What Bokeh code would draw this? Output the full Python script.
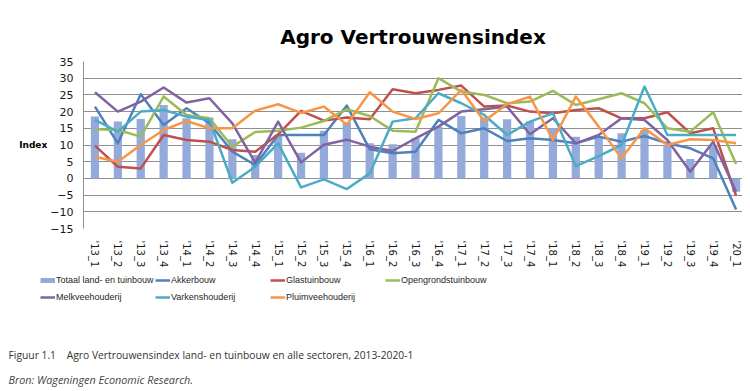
from bokeh.plotting import figure
from bokeh.models import FixedTicker, Label, Legend, LegendItem, Range1d
from bokeh.embed import file_html
from bokeh.resources import INLINE

categories = ["'13_1", "'13_2", "'13_3", "'13_4", "'14_1", "'14_2", "'14_3", "'14_4",
              "'15_1", "'15_2", "'15_3", "'15_4", "'16_1", "'16_2", "'16_3", "'16_4",
              "'17_1", "'17_2", "'17_3", "'17_4", "'18_1", "'18_2", "'18_3", "'18_4",
              "'19_1", "'19_2", "'19_3", "'19_4", "'20_1"]

totaal = [18.5, 17, 17.8, 22, 18, 18.2, 11.7, 7,
          13, 7.7, 14.3, 16.7, 10.5, 10.2, 12, 15.5,
          18.7, 18.2, 17.7, 17, 15, 12.5, 12.3, 13.5,
          14.5, 10, 5.8, 10, -4]
akkerbouw = [21.5, 10.5, 25.2, 16, 21, 16.5, 8, 4,
             13, 13, 13, 21.8, 8.7, 7.5, 8, 17.5,
             13.5, 15, 11.2, 12, 11.5, 10.5, 12.5, 11,
             12.7, 10.5, 9, 6, -9.3]
glastuinbouw = [9.8, 3.5, 3, 13, 11.5, 11, 8.5, 8,
                13.2, 20.2, 17.3, 18.2, 17.7, 26.7, 25.5, 26.5,
                27.8, 21.5, 21.8, 20, 19.5, 20.5, 21, 18,
                18, 19.8, 13.5, 15, -5.2]
opengrond = [14.7, 14.5, 12.5, 24.5, 19, 18, 9.5, 13.9,
             14.3, 15.2, 17.2, 20.7, 18.7, 14.3, 14, 30,
             26, 25, 22.5, 23, 26.2, 22, 23.7, 25.5,
             22.5, 15, 14, 19.8, 4.3]
melkvee = [25.8, 20, 23, 27.2, 22.7, 24, 16.5, 4.7,
           17, 4.8, 10.1, 11.6, 9.5, 8.2, 12, 15.5,
           20, 20.7, 21.5, 13.2, 18, 10.5, 13, 18,
           17.5, 11.5, 2, 11, -4]
varkens = [17.5, 14, 20, 20.5, 18.5, 17.5, -1.3, 3.5,
           10.5, -2.7, -0.3, -3.2, 1.5, 17, 18, 25.5,
           22.5, 19, 13, 17, 19.5, 3.7, 6.7, 10,
           27.5, 13, 13, 13, 13]
pluimvee = [6.5, 5, 10, 14.5, 17.2, 15, 15, 20.3,
            22.2, 19.6, 21.5, 16.1, 25.8, 20, 17.8, 19.5,
            26.5, 17.2, 22.2, 24.5, 11.5, 24.5, 15.5, 6,
            15, 10, 11.7, 11.5, 10.5]

series_names = ["Akkerbouw", "Glastuinbouw", "Opengrondstuinbouw",
                "Melkveehouderij", "Varkenshouderij", "Pluimveehouderij"]
series_values = [akkerbouw, glastuinbouw, opengrond, melkvee, varkens, pluimvee]
series_colors = ["#4F81BD", "#C0504D", "#9BBB59", "#8064A2", "#4BACC6", "#F79646"]
bar_name = "Totaal land- en tuinbouw"
bar_color = "#94AADA"

y_ticks = [-15, -10, -5, 0, 5, 10, 15, 20, 25, 30, 35]
title_text = "Agro Vertrouwensindex"
y_label = "Index"
caption = "Figuur 1.1\u00a0\u00a0\u00a0\u00a0Agro Vertrouwensindex land- en tuinbouw en alle sectoren, 2013-2020-1"
source_text = "Bron: Wageningen Economic Research."

xs = list(range(len(categories)))

# ---------------- main chart ----------------
p = figure(frame_width=659, frame_height=167,
           min_border_left=83, min_border_right=0, min_border_top=61, min_border_bottom=35,
           x_range=Range1d(-0.5, 28.28), y_range=Range1d(-15, 35),
           output_backend="svg", toolbar_location=None, title=title_text)

p.title.align = "center"
p.title.offset = 10
p.title.text_font = "DejaVu Sans"
p.title.text_font_size = "20px"
p.title.text_font_style = "bold"
p.title.text_color = "#000000"
p.title.standoff = 25
p.outline_line_color = None
p.background_fill_color = "white"

p.xgrid.visible = False
p.ygrid.ticker = FixedTicker(ticks=y_ticks)
p.ygrid.grid_line_color = "#8f8f8f"
p.ygrid.grid_line_width = 1

yax = p.yaxis[0]
yax.ticker = FixedTicker(ticks=y_ticks)
yax.major_label_text_font = "DejaVu Sans"
yax.major_label_text_font_size = "11px"
yax.major_label_text_color = "#1a1a1a"
yax.major_tick_line_color = None
yax.minor_tick_line_color = None
yax.axis_line_color = "#8f8f8f"
yax.major_label_standoff = 4
yax.axis_label = y_label
yax.axis_label_text_font = "DejaVu Sans"
yax.axis_label_text_font_size = "9px"
yax.axis_label_text_font_style = "bold"
yax.axis_label_text_color = "#000000"
yax.axis_label_standoff = 0
if "axis_label_orientation" in yax.properties():
    yax.axis_label_orientation = "horizontal"

xax = p.xaxis[0]
xax.ticker = FixedTicker(ticks=xs)
xax.major_label_overrides = {i: c for i, c in enumerate(categories)}
xax.major_label_orientation = "vertical"
xax.major_label_text_font = "DejaVu Sans"
xax.major_label_text_font_size = "10px"
xax.major_label_text_color = "#1a1a1a"
xax.major_tick_line_color = None
xax.minor_tick_line_color = None
xax.axis_line_color = None
xax.major_label_standoff = 6

p.vbar(x=xs, top=totaal, width=0.36, fill_color=bar_color, line_color=None)
for vals, col in zip(series_values, series_colors):
    p.line(x=xs, y=vals, line_color=col, line_width=2.5, line_join="round")

# ---------------- legend + captions (separate root, data kept out of view) ----------------
f = figure(width=742, height=120, min_border=0, x_range=Range1d(100, 101), y_range=Range1d(100, 101),
           x_axis_location=None, y_axis_location=None,
           output_backend="svg", toolbar_location=None)
f.outline_line_color = None
f.xgrid.visible = False
f.ygrid.visible = False

items = [LegendItem(label=bar_name,
                    renderers=[f.line(x=xs, y=totaal, line_color=bar_color, line_width=5)])]
for name, vals, col in zip(series_names, series_values, series_colors):
    items.append(LegendItem(label=name,
                            renderers=[f.line(x=xs, y=vals, line_color=col, line_width=2.5)]))

legend = Legend(items=items, location=(40, 85), orientation="horizontal", ncols=4,
                glyph_width=15, glyph_height=16, label_height=16, label_width=98,
                label_standoff=1, spacing=1, padding=0, margin=0,
                label_text_font="Liberation Sans",
                label_text_font_size="9px", label_text_color="#262626",
                background_fill_alpha=0, border_line_color=None)
f.add_layout(legend)

f.add_layout(Label(x=8, y=36, x_units="screen", y_units="screen", text=caption,
                   text_align="left", text_baseline="middle", text_font="Open Sans",
                   text_font_size="10.3px", text_color="#333333"))
f.add_layout(Label(x=8, y=11, x_units="screen", y_units="screen", text=source_text,
                   text_align="left", text_baseline="middle", text_font="Open Sans",
                   text_font_size="10.8px", text_font_style="italic", text_color="#444444"))

open("out.html", "w").write(file_html([p, f], INLINE))
